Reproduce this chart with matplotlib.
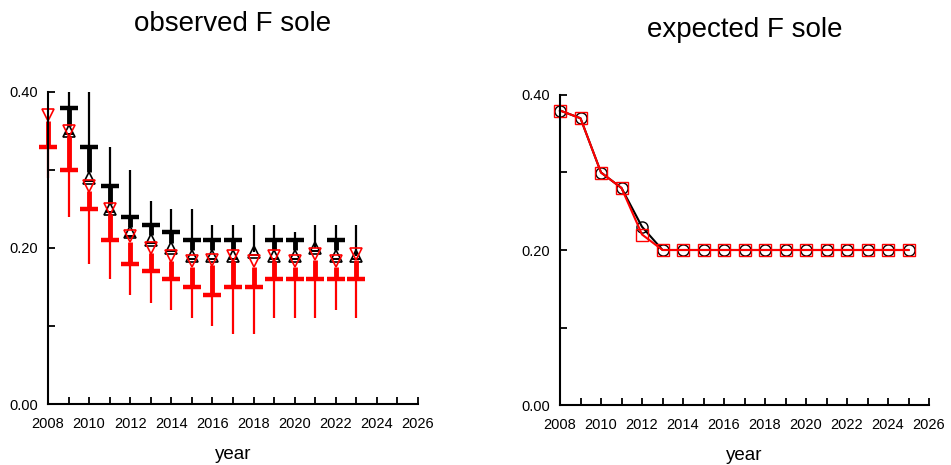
import numpy as np
import matplotlib.pyplot as plt
from matplotlib.ticker import MultipleLocator

plt.rcParams['font.family'] = ['Liberation Sans', 'DejaVu Sans']

# observed F: black = median / upper quartile / upper whisker
years_obs = np.arange(2008, 2024)
obs_mid = [np.nan, 0.35, 0.29, 0.25, 0.22, 0.21, 0.20, 0.19, 0.19, 0.19, 0.195, 0.19, 0.19, 0.20, 0.19, 0.19]
obs_q3 = [np.nan, 0.38, 0.33, 0.28, 0.24, 0.23, 0.22, 0.21, 0.21, 0.21, 0.195, 0.21, 0.21, 0.20, 0.21, 0.19]
obs_hi = [np.nan, 0.42, 0.42, 0.33, 0.30, 0.26, 0.25, 0.25, 0.23, 0.23, 0.23, 0.23, 0.22, 0.23, 0.23, 0.23]

# red = median / lower quartile / lower whisker
low_mid = [0.37, 0.35, 0.28, 0.25, 0.215, 0.20, 0.19, 0.183, 0.185, 0.19, 0.183, 0.19, 0.183, 0.192, 0.183, 0.192]
low_q1 = [0.33, 0.30, 0.25, 0.21, 0.18, 0.17, 0.16, 0.15, 0.14, 0.15, 0.15, 0.16, 0.16, 0.16, 0.16, 0.16]
low_lo = [0.29, 0.24, 0.18, 0.16, 0.14, 0.13, 0.12, 0.11, 0.10, 0.09, 0.09, 0.11, 0.11, 0.11, 0.12, 0.11]

# expected F
years_exp = np.arange(2008, 2026)
exp_black = [0.38, 0.37, 0.30, 0.28, 0.23] + [0.20] * 13
exp_red = [0.38, 0.37, 0.30, 0.28, 0.22] + [0.20] * 13

obs_mid = np.array(obs_mid)
obs_q3 = np.array(obs_q3)
obs_hi = np.array(obs_hi)
low_mid = np.array(low_mid)
low_q1 = np.array(low_q1)
low_lo = np.array(low_lo)

fig = plt.figure(figsize=(9.51, 4.65), dpi=100)
ax1 = fig.add_axes([48 / 951, 1 - 404 / 465, 370 / 951, 312 / 465])
ax2 = fig.add_axes([560 / 951, 1 - 405 / 465, 369 / 951, 310 / 465])


def style(ax, title, pad):
    ax.set_xlim(2008, 2026)
    ax.set_ylim(0, 0.40)
    for s in ['top', 'right']:
        ax.spines[s].set_visible(False)
    for s in ['left', 'bottom']:
        ax.spines[s].set_linewidth(1.5)
    ax.xaxis.set_major_locator(MultipleLocator(2))
    ax.xaxis.set_minor_locator(MultipleLocator(1))
    ax.yaxis.set_major_locator(MultipleLocator(0.2))
    ax.yaxis.set_minor_locator(MultipleLocator(0.1))
    ax.yaxis.set_major_formatter(lambda v, p: f'{v:.2f}')
    ax.tick_params(which='both', direction='in', length=5, width=1.3, labelsize=10.5)
    ax.tick_params(axis='x', which='both', pad=9)
    ax.tick_params(axis='y', which='both', pad=7)
    ax.set_xlabel('year', fontsize=13.5, labelpad=11)
    ax.set_title(title, fontsize=20, pad=pad)


gap = 0.007  # half height of a triangle marker in data units

# left panel: upper half in black
ax1.vlines(years_obs, obs_q3, obs_hi, color='black', lw=1.6)
bar = obs_q3 > obs_mid + gap
ax1.vlines(years_obs[bar], obs_mid[bar] + gap, obs_q3[bar], color='black', lw=3.5)
ax1.plot(years_obs[bar], obs_q3[bar], ls='none', marker='_', ms=13, mew=3.2, color='black')
ax1.plot(years_obs, obs_mid, ls='none', marker='^', ms=8.5, mfc='none', mec='black', mew=1.2, clip_on=False)
ax1.plot(years_obs, obs_mid - 0.004, ls='none', marker='_', ms=7, mew=1.4, color='black')

# lower half in red
ax1.vlines(years_obs, low_lo, low_q1, color='red', lw=1.6, clip_on=False)
ax1.vlines(years_obs, low_q1, low_mid - gap, color='red', lw=3.5, clip_on=False)
ax1.plot(years_obs, low_q1, ls='none', marker='_', ms=13, mew=3.2, color='red', clip_on=False)
ax1.plot(years_obs, low_mid, ls='none', marker='v', ms=8.5, mfc='none', mec='red', mew=1.2, clip_on=False)
style(ax1, 'observed F sole', 44)

# right panel
ax2.plot(years_exp, exp_black, color='black', lw=1.5, marker='o', ms=8, mfc='none', mew=1.0, clip_on=False)
ax2.plot(years_exp, exp_red, color='red', lw=1.5, marker='s', ms=8, mfc='none', mew=1.0, clip_on=False)
style(ax2, 'expected F sole', 42)

fig.savefig('out.png', dpi=100)
